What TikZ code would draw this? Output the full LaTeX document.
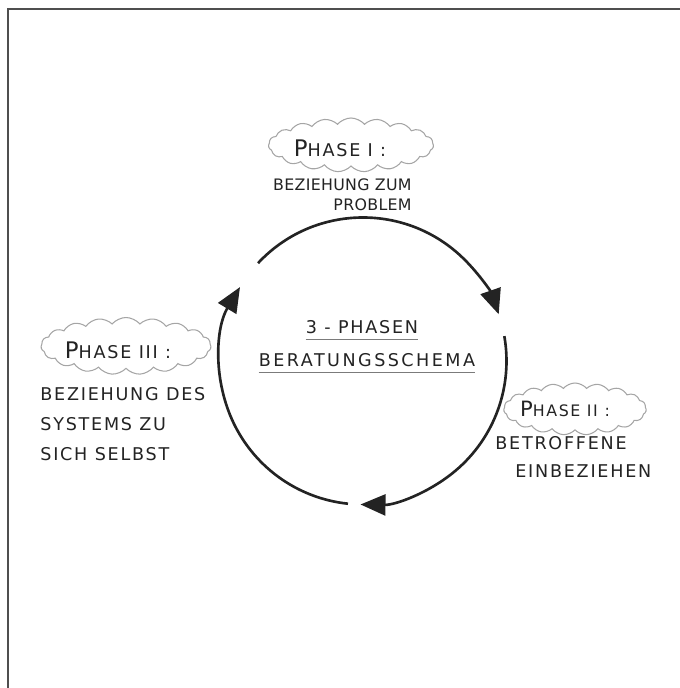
\documentclass[tikz,border=0pt]{standalone}
\usepackage{fontspec}
\usepackage{tikz}
\usetikzlibrary{shapes.symbols, arrows.meta, positioning}
\newfontfamily\handfont[LetterSpace=10]{DejaVu Sans}
\definecolor{inkgray}{RGB}{35,35,35}
\definecolor{cloudgray}{RGB}{165,165,165}

\begin{document}
\begin{tikzpicture}[
    phasecloud/.style={cloud, cloud puffs=19, cloud puff arc=100, cloud ignores aspect, draw=cloudgray, line width=0.6pt, inner sep=0pt},
    phaselabel/.style={text=inkgray, inner sep=0pt, font=\handfont\fontsize{10}{12}\selectfont},
    phasetext/.style={text=inkgray, inner sep=0pt, align=left},
    cyclearc/.style={line width=1.5pt, draw=inkgray, -{Triangle[length=0.5cm, width=0.42cm]}}
]
\useasboundingbox (0,0) rectangle (13.6,13.76);

% Frame
\draw[line width=1.1pt, draw=inkgray!80] (0.16,0) -- (0.16,13.58) -- (13.6,13.58);

% Cycle
\coordinate (mitte) at (7.26,6.54);
\draw[cyclearc] ([shift={(137:2.87cm)}]mitte) arc[start angle=137, end angle=19, radius=2.87cm];
\draw[cyclearc] ([shift={(10:2.87cm)}]mitte) arc[start angle=10, end angle=-91, radius=2.87cm];
\draw[cyclearc] ([shift={(264:2.87cm)}]mitte) arc[start angle=264, end angle=149, radius=2.87cm];

% Title
\node[phasetext, font=\handfont\fontsize{10}{12}\selectfont] (titelA) at (7.24,7.22) {3 - PHASEN};
\node[phasetext, font=\handfont\fontsize{10}{12}\selectfont\addfontfeature{LetterSpace=14}] (titelB) at (7.34,6.56) {BERATUNGSSCHEMA};
\draw[inkgray!60, line width=0.6pt] ([yshift=-3pt]titelA.south west) -- ([yshift=-3pt]titelA.south east);
\draw[inkgray!60, line width=0.6pt] ([yshift=-3pt]titelB.south west) -- ([yshift=-3pt]titelB.south east);

% Phases
\node[phasecloud, minimum width=3.3cm, minimum height=1.08cm] (wolkeI) at (7.02,10.86) {};
\node[phaselabel] (phaseI) at ([xshift=-0.22cm, yshift=-0.06cm]wolkeI.center) {{\fontsize{13}{13}\selectfont P}HASE I :};
\node[phasetext, align=right, anchor=north east, font=\handfont\fontsize{9}{11.5}\selectfont\addfontfeature{LetterSpace=2}] (textI) at (8.24,10.2) {BEZIEHUNG ZUM\\PROBLEM};

\node[phasecloud, minimum width=2.85cm, minimum height=1.04cm] (wolkeII) at (11.5,5.58) {};
\node[phaselabel, font=\handfont\fontsize{9}{11}\selectfont] (phaseII) at ([xshift=-0.2cm]wolkeII.center) {{\fontsize{12}{12}\selectfont P}HASE II :};
\node[phasetext, anchor=north west, font=\handfont\fontsize{10}{16}\selectfont] (textII) at (9.9,5.04) {BETROFFENE\\\hspace*{0.4cm}EINBEZIEHEN};

\node[phasecloud, minimum width=3.4cm, minimum height=1.14cm] (wolkeIII) at (2.52,6.84) {};
\node[phaselabel] (phaseIII) at ([xshift=-0.16cm, yshift=-0.08cm]wolkeIII.center) {{\fontsize{13}{13}\selectfont P}HASE III :};
\node[phasetext, anchor=north west, font=\handfont\fontsize{10}{17}\selectfont] (textIII) at (0.8,6.02) {BEZIEHUNG DES\\SYSTEMS ZU\\SICH SELBST};
\end{tikzpicture}
\end{document}
